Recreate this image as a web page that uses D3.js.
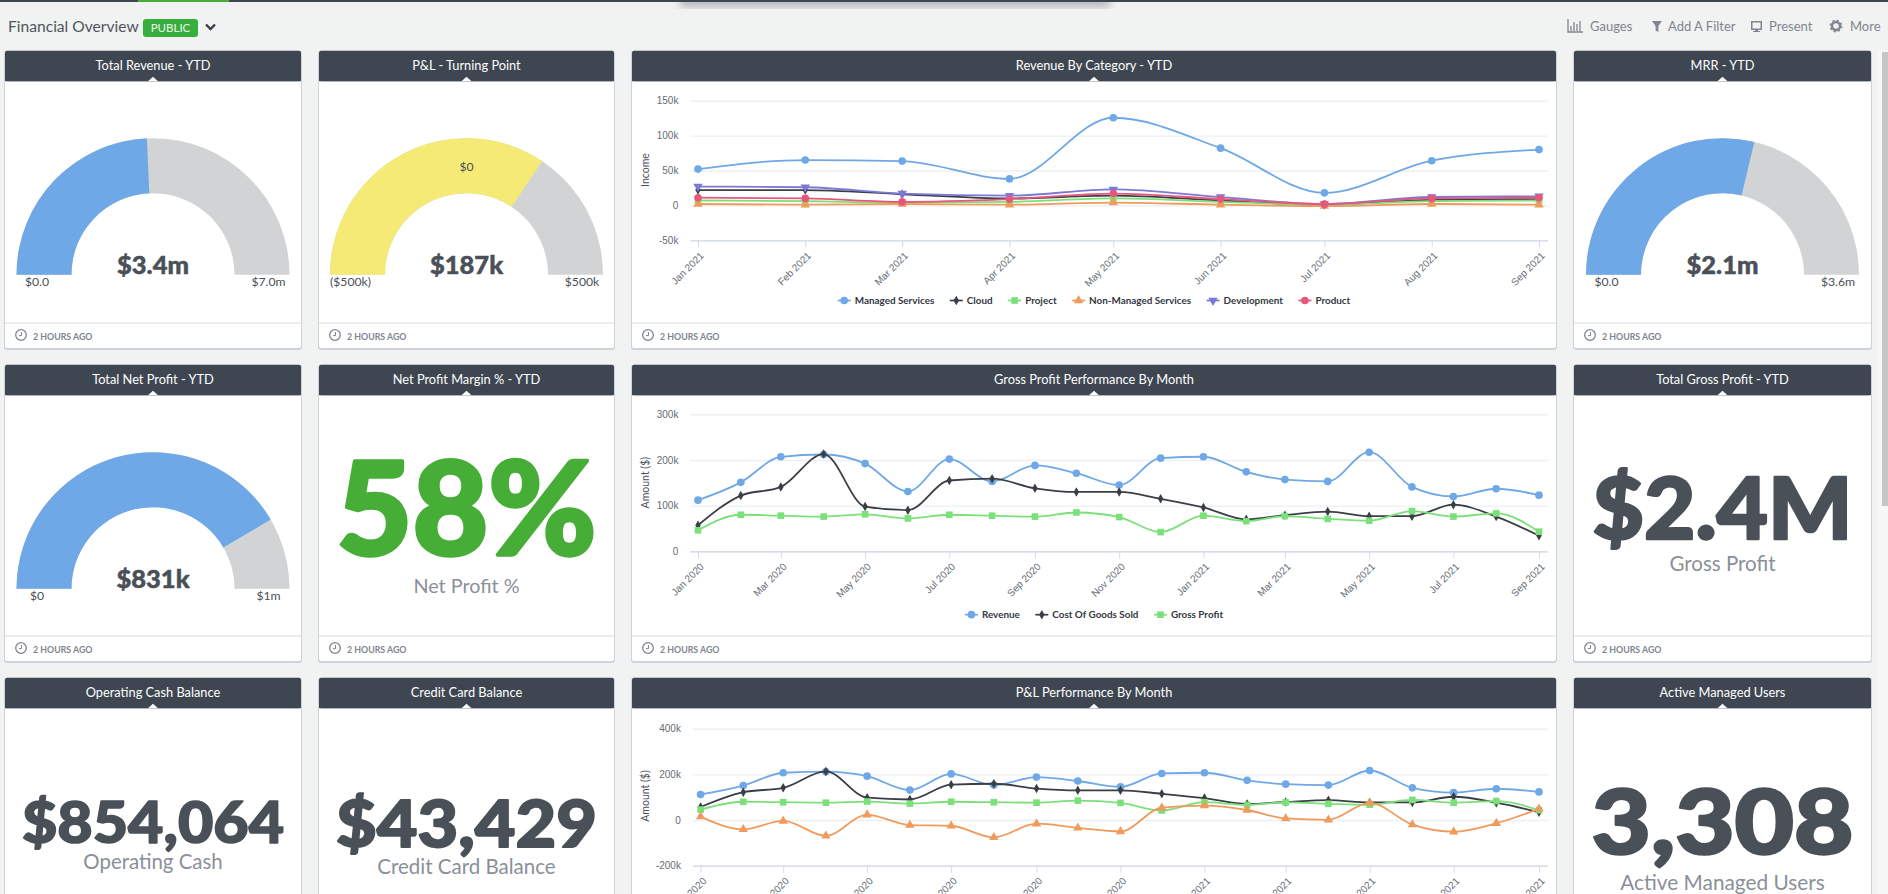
<!DOCTYPE html>
<html>
<head>
<meta charset="utf-8">
<title>Financial Overview</title>
<script src="https://cdn.jsdelivr.net/npm/d3@7"></script>
<style>
    html, body { margin: 0; padding: 0; background: #f1f2f2; overflow: hidden; }
    svg { display: block; font-family: Lato, "Open Sans", sans-serif; }
    .y.axis text, .x.axis text { font-size: 10px; fill: #666c75; }
    .y.axis line { stroke: #eeeff1; stroke-width: 1.4; }
    .y.axis .base line { stroke: #ccd3e2; stroke-width: 1.2; }
    .x.axis line { stroke: #d5dbe8; }
    .y.axis path, .x.axis path { display: none; }
    .serie { fill: none; stroke-width: 1.8; }
</style>
</head>
<body>
<div id="chart"></div>
<script>
// revenue by category, in thousands
var categoryMonths = ['2021-01', '2021-02', '2021-03', '2021-04', '2021-05', '2021-06', '2021-07', '2021-08', '2021-09'],
    managedServices = [52, 65, 63.5, 38, 125.6, 82, 18, 64, 80],
    cloud = [22, 22, 16, 10, 14, 7, 1, 8, 9],
    project = [7, 6, 4, 5, 10, 5, 1, 6, 7],
    nonManaged = [2, 1, 2, 1, 4, 1, -1, 2, 1],
    development = [27, 26, 17, 14, 23, 12, 2, 12, 13],
    product = [11, 10, 5, 9, 17, 9, 2, 10, 11];

// monthly performance, in thousands
var perfMonths = ['2020-01', '2020-02', '2020-03', '2020-04', '2020-05', '2020-06', '2020-07', '2020-08', '2020-09', '2020-10', '2020-11', '2020-12',
        '2021-01', '2021-02', '2021-03', '2021-04', '2021-05', '2021-06', '2021-07', '2021-08', '2021-09'],
    revenue = [112, 151, 207, 212, 192, 131, 202, 153, 188, 171, 145, 204, 207, 174, 157, 153, 217, 141, 120, 137, 123],
    costOfGoods = [57, 122, 141, 213, 98, 90, 155, 159, 138, 130, 130, 115, 96, 70, 79, 87, 77, 77, 102, 76, 34],
    grossProfit = [46, 80, 78, 76, 81, 72, 80, 78, 76, 85, 75, 42, 78, 66, 77, 71, 67, 88, 76, 83, 43],
    netProfit = [15, -41, -4, -69, 23, -22, -25, -76, -16, -34, -50, 54, 63, 44, 7, 1, 75, -20, -51, -14, 49];

var categoryTicks = [-50, 0, 50, 100, 150],
    grossTicks = [0, 100, 200, 300],
    plTicks = [-200, 0, 200, 400];

var gaugeTitles = ['Total Revenue - YTD', 'P&L - Turning Point', 'MRR - YTD', 'Total Net Profit - YTD'],
    gaugeValues = [3.4, 187, 2.07, 0.831],
    gaugeMins = [0, -500, 0, 0],
    gaugeMaxes = [7, 500, 3.6, 1],
    gaugeLabels = ['$3.4m', '$187k', '$2.1m', '$831k'],
    gaugeMinLabels = ['$0.0', '($500k)', '$0.0', '$0'],
    gaugeMaxLabels = ['$7.0m', '$500k', '$3.6m', '$1m'];

var colors = {blue: '#6fa8e6', black: '#3a3f46', green: '#7ce07a', orange: '#f09a5c', purple: '#7b78d6', pink: '#e9567c',
        header: '#3e4651', text: '#4a5058', muted: '#80868f', caption: '#8a9098', kpiGreen: '#46ae37', yellow: '#f6ea76', gaugeGrey: '#d2d3d4'};

var width = 1888,
    height = 894,
    svg = d3.select('#chart').append('svg').attr('width', width).attr('height', height),
    parseMonth = d3.timeParse('%Y-%m'),
    monthLabel = d3.timeFormat('%b %Y'),
    symbolDown = {draw: function(ctx, size) {
        var s = Math.sqrt(size * 4 / Math.sqrt(3)) / 2, h = s * Math.sqrt(3) / 2;
        ctx.moveTo(-s, -h * 0.67); ctx.lineTo(s, -h * 0.67); ctx.lineTo(0, h * 1.33); ctx.closePath();
    }};

var markers = {
    circle: [d3.symbolCircle, 46],
    diamond: [d3.symbolDiamond, 26],
    square: [d3.symbolSquare, 44],
    triangle: [d3.symbolTriangle, 38],
    down: [symbolDown, 38]
};

var col1 = [5, 301], col2 = [319, 614], col3 = [632, 1556], col4 = [1574, 1871];
var rows = [
    {top: 50.7, line: 323, bottom: 348},
    {top: 364.7, line: 636, bottom: 661},
    {top: 677.7, line: null, bottom: 910}
];

// page furniture
svg.append('rect').attr('width', width).attr('height', height).attr('fill', '#f1f2f2');

var defs = svg.append('defs');
defs.append('filter').attr('id', 'blur').append('feGaussianBlur').attr('stdDeviation', 4);

svg.append('rect').attr('x', 680).attr('y', -4).attr('width', 430).attr('height', 11)
    .attr('fill', '#b4b6b8').attr('filter', 'url(#blur)');
svg.append('rect').attr('width', width).attr('height', 2).attr('fill', colors.header);
svg.append('rect').attr('x', 138).attr('width', 91).attr('height', 2).attr('fill', colors.kpiGreen);

svg.append('rect').attr('x', 1878).attr('y', 50).attr('width', 10).attr('height', height - 50).attr('fill', '#f7f7f7');
svg.append('rect').attr('x', 1882).attr('y', 52).attr('width', 6).attr('height', 454).attr('fill', '#c6c6c6');

function label(g, x, y, str, size, fill, anchor, weight) {
    return g.append('text')
        .attr('x', x)
        .attr('y', y)
        .attr('text-anchor', anchor || 'middle')
        .style('font-size', size + 'px')
        .style('font-weight', weight || 400)
        .attr('fill', fill)
        .text(str);
}

label(svg, 8, 31.5, 'Financial Overview', 15.6, '#4f555d', 'start', 400);
svg.append('rect').attr('x', 143).attr('y', 19).attr('width', 55).attr('height', 18).attr('rx', 3).attr('fill', '#38ae3f');
label(svg, 170.5, 32, 'PUBLIC', 11.5, '#eaf7ea');
svg.append('path').attr('d', 'M206,24.5 L210.5,29 L215,24.5').attr('fill', 'none').attr('stroke', '#3a3f46').attr('stroke-width', 2.4);

// toolbar
var bar = svg.append('g').attr('fill', colors.muted);
bar.append('path').attr('d', 'M1568,19 v13 h15 M1571,31 v-5 M1574,31 v-9 M1577,31 v-7 M1580,31 v-10')
    .attr('fill', 'none').attr('stroke', colors.muted).attr('stroke-width', 1.3);
label(bar, 1590, 31, 'Gauges', 13, colors.muted, 'start');
bar.append('path').attr('d', 'M1652,21 h10 l-3.6,5 v6 l-2.8,-1.5 v-4.5 z');
label(bar, 1668, 31, 'Add A Filter', 13, colors.muted, 'start');
bar.append('path').attr('d', 'M1751,21 h11 v9 h-4 v1 h2 v1 h-7 v-1 h2 v-1 h-4 z M1752.5,22.5 v6 h8 v-6 z').attr('fill-rule', 'evenodd');
label(bar, 1769, 31, 'Present', 13, colors.muted, 'start');
bar.append('circle').attr('cx', 1836).attr('cy', 26).attr('r', 4).attr('fill', 'none').attr('stroke', colors.muted).attr('stroke-width', 2.4);
bar.append('circle').attr('cx', 1836).attr('cy', 26).attr('r', 5.6).attr('fill', 'none').attr('stroke', colors.muted)
    .attr('stroke-width', 1.6).attr('stroke-dasharray', '2.2 2.2');
label(bar, 1850, 31, 'More', 13, colors.muted, 'start');

function panel(col, row, title) {
    var g = svg.append('g'),
        x0 = col[0], x1 = col[1], w = x1 - x0, top = row.top, mid = (x0 + x1) / 2;

    g.append('rect').attr('x', x0 - 1).attr('y', top).attr('width', w + 2).attr('height', row.bottom - top + 2)
        .attr('rx', 3).attr('fill', '#cfd2da');
    g.append('rect').attr('x', x0).attr('y', top).attr('width', w).attr('height', row.bottom - top)
        .attr('rx', 2).attr('fill', '#fff');
    g.append('rect').attr('x', x0).attr('y', top).attr('width', w).attr('height', 30.5).attr('rx', 2).attr('fill', colors.header);
    g.append('rect').attr('x', x0).attr('y', top + 8).attr('width', w).attr('height', 22.5).attr('fill', colors.header);
    g.append('path').attr('d', d3.line()([[mid - 5, top + 30.5], [mid, top + 26], [mid + 5, top + 30.5]])).attr('fill', '#fff');
    label(g, mid, top + 19.5, title, 12.8, '#fff');

    if (row.line) {
        g.append('line').attr('x1', x0).attr('x2', x1).attr('y1', row.line).attr('y2', row.line).attr('stroke', '#d9dbe0').attr('stroke-width', 1.2);
        g.append('circle').attr('cx', x0 + 16).attr('cy', row.line + 12).attr('r', 5.3)
            .attr('fill', 'none').attr('stroke', colors.muted).attr('stroke-width', 1.3);
        g.append('path').attr('d', 'M' + (x0 + 16.5) + ',' + (row.line + 9) + ' v3.6 h-2.6')
            .attr('fill', 'none').attr('stroke', colors.muted).attr('stroke-width', 1);
        label(g, x0 + 28, row.line + 16.5, '2 HOURS AGO', 8.8, colors.muted, 'start', 700);
    }
    return g;
}

function gauge(col, row, i, fill) {
    var g = panel(col, row, gaugeTitles[i]),
        cx = (col[0] + col[1]) / 2,
        cy = row.top + 224,
        scale = d3.scaleLinear().domain([gaugeMins[i], gaugeMaxes[i]]).range([-Math.PI / 2, Math.PI / 2]),
        arc = d3.arc().innerRadius(81.5).outerRadius(136.5),
        body = g.append('g').attr('transform', 'translate(' + cx + ',' + cy + ')');

    body.append('path').attr('fill', colors.gaugeGrey)
        .attr('d', arc({startAngle: -Math.PI / 2, endAngle: Math.PI / 2}));
    body.append('path').attr('fill', fill)
        .attr('d', arc({startAngle: -Math.PI / 2, endAngle: scale(gaugeValues[i])}));

    label(body, 0, -0.5, gaugeLabels[i], 25.5, colors.text, 'middle', 900)
        .attr('stroke', colors.text).attr('stroke-width', 0.5);
    label(body, -116, 11.5, gaugeMinLabels[i], 12.2, colors.text);
    label(body, 115.5, 11.5, gaugeMaxLabels[i], 12.2, colors.text);
    return body;
}

function kpi(col, row, title, value, size, fitWidth, baseline, caption, captionY, captionSize, fill) {
    var g = panel(col, row, title),
        mid = (col[0] + col[1]) / 2;
    // heavier than the bold cut that is installed
    label(g, mid, baseline, value, size, fill || colors.text, 'middle', 900)
        .attr('textLength', fitWidth).attr('lengthAdjust', 'spacingAndGlyphs')
        .attr('stroke', fill || colors.text).attr('stroke-width', size * 0.028).attr('stroke-linejoin', 'round');
    label(g, mid, captionY, caption, captionSize, colors.caption, 'middle', 400);
}

// a highcharts like line chart: monthly points on a time axis
function lineChart(col, row, title, opts) {
    var g = panel(col, row, title),
        dates = opts.months.map(parseMonth),
        x = d3.scaleTime().domain(d3.extent(dates)).range([opts.left, 1539]),
        y = d3.scaleLinear().domain(d3.extent(opts.ticks)).range([opts.bottom, opts.top]),
        tickDates = dates.filter(function(d, i) { return i % opts.every === 0; }),
        line = d3.line().curve(d3.curveMonotoneX);

    var yy = g.append('g').attr('class', 'y axis').attr('transform', 'translate(' + opts.gridLeft + ',0)')
        .call(d3.axisLeft(y)
            .tickValues(opts.ticks)
            .tickSize(-(1548 - opts.gridLeft))
            .tickFormat(function(d) { return d === 0 ? '0' : d + 'k'; }));
    yy.selectAll('text').attr('x', opts.yPad);
    yy.selectAll('.tick').filter(function(d) { return d === opts.ticks[0]; }).classed('base', true);

    var xx = g.append('g').attr('class', 'x axis').attr('transform', 'translate(0,' + opts.bottom + ')')
        .call(d3.axisBottom(x).tickValues(tickDates).tickSize(7).tickFormat(monthLabel));
    xx.selectAll('text')
        .attr('text-anchor', 'end')
        .attr('transform', 'rotate(-45)')
        .attr('x', -7)
        .attr('y', 12)
        .attr('dy', '.35em');

    g.append('text')
        .attr('transform', 'translate(649,' + opts.titleY + ') rotate(-90)')
        .attr('text-anchor', 'middle')
        .style('font-size', '10.5px')
        .attr('fill', colors.text)
        .text(opts.yTitle);

    opts.series.forEach(function(s) {
        var pts = s.values.map(function(v, i) { return [x(dates[i]), y(v)]; }),
            mark = d3.symbol().type(markers[s.marker][0]).size(markers[s.marker][1]);
        g.append('path').attr('class', 'serie').attr('stroke', s.color).attr('d', line(pts));
        g.selectAll(null).data(pts).enter().append('path')
            .attr('transform', function(d) { return 'translate(' + d[0] + ',' + d[1] + ')'; })
            .attr('fill', s.color)
            .attr('d', mark());
    });

    // legend, centred on the panel
    if (opts.legendY) {
        var legend = g.append('g'),
            cursor = 0;
        opts.series.forEach(function(s) {
            var item = legend.append('g').attr('transform', 'translate(' + cursor + ',' + opts.legendY + ')');
            item.append('line').attr('x1', 0).attr('x2', 13).attr('stroke', s.color).attr('stroke-width', 1.7);
            item.append('path').attr('transform', 'translate(6.5,0)').attr('fill', s.color)
                .attr('d', d3.symbol().type(markers[s.marker][0]).size(markers[s.marker][1])());
            var t = label(item, 17, 3.5, s.name, 9.9, '#33383f', 'start', 700);
            cursor += 17 + t.node().getComputedTextLength() + 15.5;
        });
        legend.attr('transform', 'translate(' + ((col[0] + col[1]) / 2 - (cursor - 15.5) / 2) + ',0)');
    }
}

// row 1
gauge(col1, rows[0], 0, colors.blue);
gauge(col2, rows[0], 1, colors.yellow);
gauge(col4, rows[0], 2, colors.blue);
label(svg, 466.5, 170.5, '$0', 12.2, colors.text);

lineChart(col3, rows[0], 'Revenue By Category - YTD', {
    months: categoryMonths, ticks: categoryTicks, every: 1,
    left: 698, gridLeft: 690.4, yPad: -12, top: 100.7, bottom: 240.3,
    yTitle: 'Income', titleY: 170, legendY: 300.5,
    series: [
        {name: 'Managed Services', values: managedServices, color: colors.blue, marker: 'circle'},
        {name: 'Cloud', values: cloud, color: colors.black, marker: 'diamond'},
        {name: 'Project', values: project, color: colors.green, marker: 'square'},
        {name: 'Non-Managed Services', values: nonManaged, color: colors.orange, marker: 'triangle'},
        {name: 'Development', values: development, color: colors.purple, marker: 'down'},
        {name: 'Product', values: product, color: colors.pink, marker: 'circle'}
    ]
});

// row 2
gauge(col1, rows[1], 3, colors.blue);
kpi(col2, rows[1], 'Net Profit Margin % - YTD', '58%', 130, 260, 555, 'Net Profit %', 593, 19.8, colors.kpiGreen);
kpi(col4, rows[1], 'Total Gross Profit - YTD', '$2.4M', 86, 260, 538.5, 'Gross Profit', 571, 20.5);

lineChart(col3, rows[1], 'Gross Profit Performance By Month', {
    months: perfMonths, ticks: grossTicks, every: 2,
    left: 698, gridLeft: 690.4, yPad: -12, top: 414.3, bottom: 551.3,
    yTitle: 'Amount ($)', titleY: 482.7, legendY: 614.7,
    series: [
        {name: 'Revenue', values: revenue, color: colors.blue, marker: 'circle'},
        {name: 'Cost Of Goods Sold', values: costOfGoods, color: colors.black, marker: 'diamond'},
        {name: 'Gross Profit', values: grossProfit, color: colors.green, marker: 'square'}
    ]
});

// row 3
kpi(col1, rows[2], 'Operating Cash Balance', '$854,064', 57, 262, 842.7, 'Operating Cash', 869, 20.4);
kpi(col2, rows[2], 'Credit Card Balance', '$43,429', 65, 261, 846.7, 'Credit Card Balance', 874, 20.5);
kpi(col4, rows[2], 'Active Managed Users', '3,308', 90, 262, 854, 'Active Managed Users', 890, 20.8);

lineChart(col3, rows[2], 'P&L Performance By Month', {
    months: perfMonths, ticks: plTicks, every: 2,
    left: 700.6, gridLeft: 692.9, yPad: -12, top: 728.7, bottom: 865.7,
    yTitle: 'Amount ($)', titleY: 796,
    series: [
        {name: 'Revenue', values: revenue, color: colors.blue, marker: 'circle'},
        {name: 'Cost Of Goods Sold', values: costOfGoods, color: colors.black, marker: 'diamond'},
        {name: 'Gross Profit', values: grossProfit, color: colors.green, marker: 'square'},
        {name: 'Net Profit', values: netProfit, color: colors.orange, marker: 'triangle'}
    ]
});
</script>
</body>
</html>
